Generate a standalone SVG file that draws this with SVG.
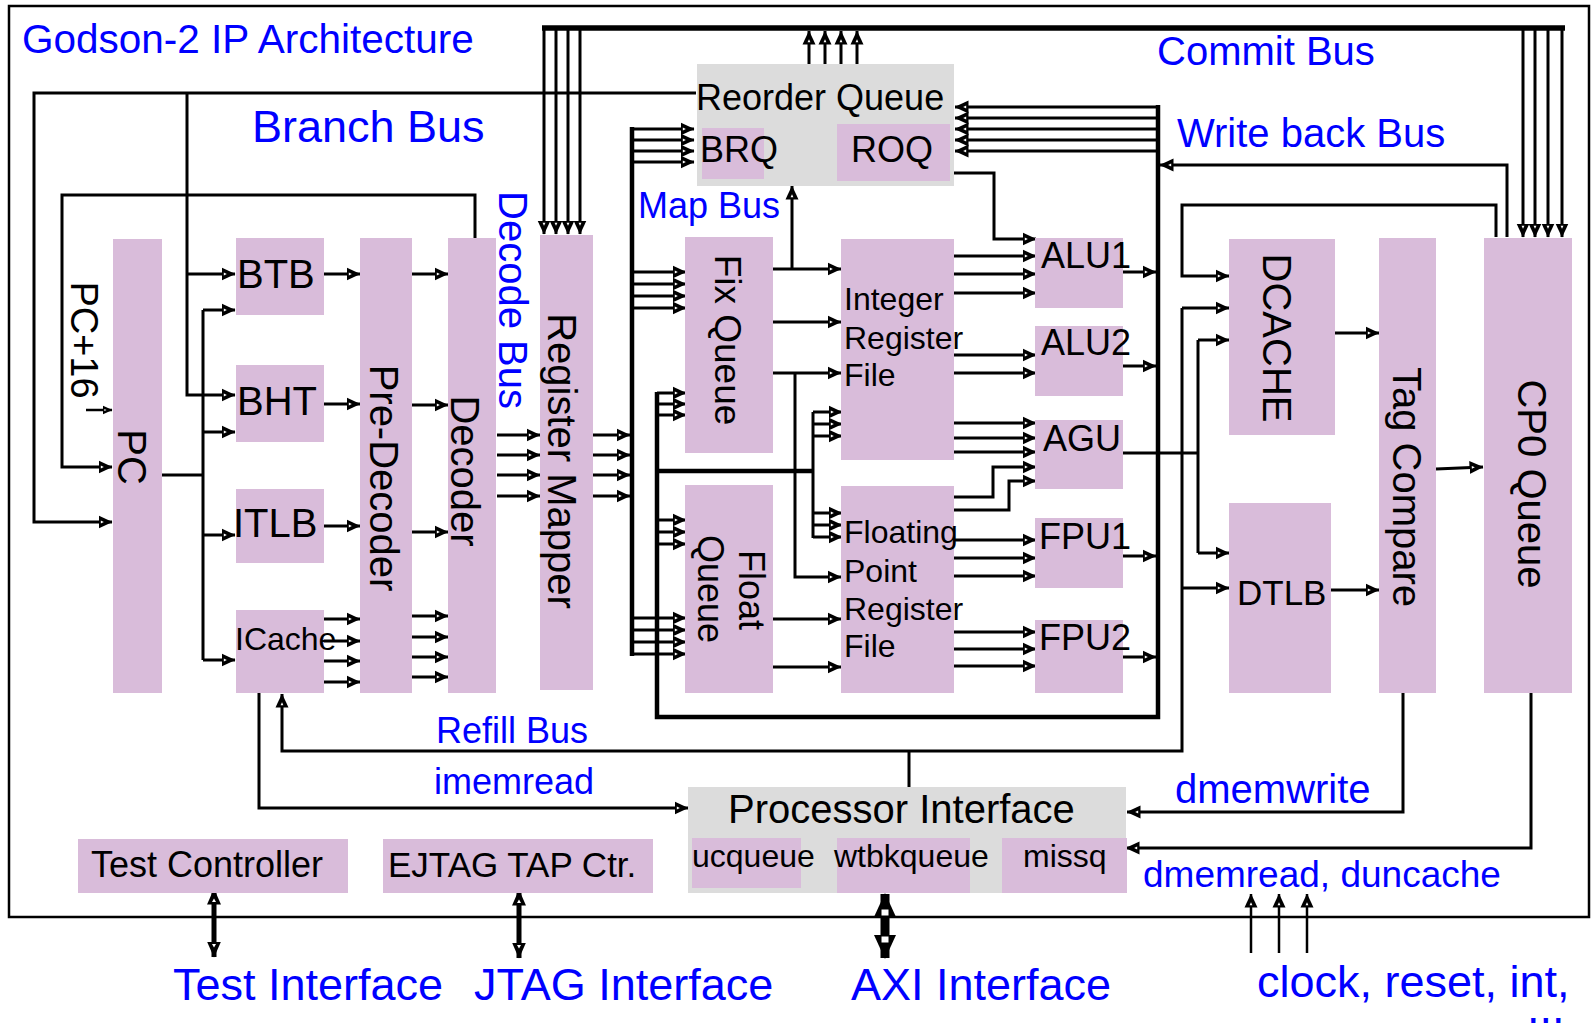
<svg xmlns="http://www.w3.org/2000/svg" width="1591" height="1023" viewBox="0 0 1591 1023">
<style>
.t{font-family:"Liberation Sans",Arial,sans-serif;fill:#000}
.bl{font-family:"Liberation Sans",Arial,sans-serif;fill:#0000FF}
.p{fill:#D9BCDA}
.g{fill:#DCDCDC}
.c{fill:none;stroke:#000;stroke-width:3}
.k{fill:none;stroke:#000;stroke-width:4.5}
.a{marker-end:url(#ah)}
.d{marker-start:url(#bh);marker-end:url(#bh)}
</style>
<defs>
<marker id="ah" viewBox="0 0 14 14" markerWidth="14" markerHeight="14" refX="13.5" refY="7" orient="auto-start-reverse" markerUnits="userSpaceOnUse">
<path d="M0,0.5 L14,7 L0,13.5 Z" fill="#000"/>
<path d="M2.3,5.6 L5.3,7 L2.3,8.4 Z" fill="#fff"/>
</marker>
<marker id="bh" viewBox="0 0 16 16" markerWidth="16" markerHeight="16" refX="15.5" refY="8" orient="auto-start-reverse" markerUnits="userSpaceOnUse">
<path d="M0,1 L16,8 L0,15 Z" fill="#000"/>
<path d="M2.5,6 L6,8 L2.5,10 Z" fill="#fff"/>
</marker>
<marker id="sm" viewBox="0 0 10 10" markerWidth="10" markerHeight="10" refX="9.5" refY="5" orient="auto" markerUnits="userSpaceOnUse">
<path d="M0,0.5 L10,5 L0,9.5 Z" fill="#000"/>
<path d="M1.8,4 L4,5 L1.8,6 Z" fill="#fff"/>
</marker>
<marker id="ax" viewBox="0 0 24 22" markerWidth="24" markerHeight="22" refX="23" refY="11" orient="auto-start-reverse" markerUnits="userSpaceOnUse">
<path d="M0,0 L24,11 L0,22 Z" fill="#000"/>
<rect x="1" y="7" width="7" height="8" fill="#fff" stroke="#000" stroke-width="1"/>
</marker>
</defs>
<rect x="0" y="0" width="1591" height="1023" fill="#fff"/>
<rect x="9" y="6" width="1580" height="911" fill="none" stroke="#000" stroke-width="2.5"/>

<g id="labels">
<text class="bl" x="22" y="53" font-size="40.5">Godson-2 IP Architecture</text>
<text class="bl" x="1157" y="65" font-size="40">Commit Bus</text>
<text class="bl" x="252" y="142" font-size="45">Branch Bus</text>
<text class="bl" x="1177" y="147" font-size="40">Write back Bus</text>
<text class="bl" x="638" y="218" font-size="36">Map Bus</text>
<text class="bl" font-size="40" text-anchor="middle" transform="translate(499,300) rotate(90)">Decode Bus</text>
<text class="t" font-size="38" text-anchor="middle" transform="translate(71,340) rotate(90)">PC+16</text>
<text class="bl" x="436" y="743" font-size="36">Refill Bus</text>
<text class="bl" x="434" y="794" font-size="36">imemread</text>
<text class="bl" x="1175" y="803" font-size="40">dmemwrite</text>
<text class="bl" x="1143" y="887" font-size="37">dmemread, duncache</text>
<text class="bl" x="173" y="1000" font-size="45">Test Interface</text>
<text class="bl" x="474" y="1000" font-size="45">JTAG Interface</text>
<text class="bl" x="851" y="1000" font-size="45">AXI Interface</text>
<text class="bl" x="1257" y="997" font-size="45">clock, reset, int,</text>
<text class="bl" x="1527" y="1049" font-size="45">!!!</text>
</g>

<g id="connectors">
<!-- commit bus -->
<path class="c" d="M542,28 H1565" style="stroke-width:5.5"/>
<path class="c a" d="M544,28 V234"/>
<path class="c a" d="M556,28 V234"/>
<path class="c a" d="M568,28 V234"/>
<path class="c a" d="M580,28 V234"/>
<path class="c a" d="M1523,28 V237"/>
<path class="c a" d="M1535,28 V237"/>
<path class="c a" d="M1548,28 V237"/>
<path class="c a" d="M1562,28 V237"/>
<path class="c a" d="M809,64 V31"/>
<path class="c a" d="M825,64 V31"/>
<path class="c a" d="M841,64 V31"/>
<path class="c a" d="M857,64 V31"/>
<!-- branch bus -->
<path class="c a" d="M696,93 H34 V522 H112"/>
<path class="c a" d="M187,93 V395 H235"/>
<path class="c a" d="M187,274 H235"/>
<!-- decoder to PC -->
<path class="c a" d="M475,238 V195 H62 V467 H112"/>
<path class="c" d="M86,410 H112" style="stroke-width:2.5" marker-end="url(#sm)"/>
<!-- PC fanout -->
<path class="c" d="M162,475 H203"/>
<path class="c" d="M203,310 V660"/>
<path class="c a" d="M203,310 H235"/>
<path class="c a" d="M203,432 H235"/>
<path class="c a" d="M203,535 H235"/>
<path class="c a" d="M203,660 H235"/>
<!-- to pre-decoder -->
<path class="c a" d="M323,274 H360"/>
<path class="c a" d="M323,404 H360"/>
<path class="c a" d="M323,526 H360"/>
<path class="c a" d="M322,619 H360"/>
<path class="c a" d="M322,641 H360"/>
<path class="c a" d="M322,661 H360"/>
<path class="c a" d="M322,682 H360"/>
<!-- pre-decoder to decoder -->
<path class="c a" d="M410,274 H448"/>
<path class="c a" d="M410,405 H448"/>
<path class="c a" d="M410,532 H448"/>
<path class="c a" d="M410,616 H448"/>
<path class="c a" d="M410,637 H448"/>
<path class="c a" d="M410,657 H448"/>
<path class="c a" d="M410,677 H448"/>
<!-- decoder to mapper -->
<path class="c a" d="M497,435 H540"/>
<path class="c a" d="M497,455 H540"/>
<path class="c a" d="M497,475 H540"/>
<path class="c a" d="M497,496 H540"/>
<!-- mapper to map bus -->
<path class="c a" d="M593,435 H630"/>
<path class="c a" d="M593,455 H630"/>
<path class="c a" d="M593,475 H630"/>
<path class="c a" d="M593,496 H630"/>
<!-- map bus -->
<path class="k" d="M632,127 V656"/>
<path class="c a" d="M632,129 H694"/>
<path class="c a" d="M632,140 H694"/>
<path class="c a" d="M632,151 H694"/>
<path class="c a" d="M632,162 H694"/>
<path class="c a" d="M632,272 H686"/>
<path class="c a" d="M632,284 H686"/>
<path class="c a" d="M632,296 H686"/>
<path class="c a" d="M632,308 H686"/>
<path class="c a" d="M632,618 H686"/>
<path class="c a" d="M632,630 H686"/>
<path class="c a" d="M632,642 H686"/>
<path class="c a" d="M632,654 H686"/>
<!-- write back bus -->
<path class="k" d="M657,392 V717 H1158 V105"/>
<path class="c a" d="M1158,107 H955"/>
<path class="c a" d="M1158,118 H955"/>
<path class="c a" d="M1158,129 H955"/>
<path class="c a" d="M1158,140 H955"/>
<path class="c a" d="M1158,151 H955"/>
<path class="c a" d="M657,393 H686"/>
<path class="c a" d="M657,404 H686"/>
<path class="c a" d="M657,415 H686"/>
<path class="c a" d="M657,520 H686"/>
<path class="c a" d="M657,532 H686"/>
<path class="c a" d="M657,544 H686"/>
<path class="k" d="M657,471 H813"/>
<path class="c" d="M813,412 V538"/>
<path class="c a" d="M813,412 H842"/>
<path class="c a" d="M813,424 H842"/>
<path class="c a" d="M813,436 H842"/>
<path class="c a" d="M813,513 H842"/>
<path class="c a" d="M813,525 H842"/>
<path class="c a" d="M813,537 H842"/>
<!-- queues to register files -->
<path class="c a" d="M792,269 V186"/>
<path class="c a" d="M773,269 H841"/>
<path class="c a" d="M773,322 H841"/>
<path class="c a" d="M773,373 H841"/>
<path class="c a" d="M795,373 V577 H841"/>
<path class="c a" d="M773,619 H841"/>
<path class="c a" d="M773,667 H841"/>
<!-- register files to units -->
<path class="c a" d="M950,173 H994 V239 H1036"/>
<path class="c a" d="M954,256 H1036"/>
<path class="c a" d="M954,274 H1036"/>
<path class="c a" d="M954,293 H1036"/>
<path class="c a" d="M954,355 H1036"/>
<path class="c a" d="M954,373 H1036"/>
<path class="c a" d="M954,423 H1036"/>
<path class="c a" d="M954,438 H1036"/>
<path class="c a" d="M954,452 H1036"/>
<path class="c a" d="M954,497 H993 V467 H1036"/>
<path class="c a" d="M954,510 H1009 V481 H1036"/>
<path class="c a" d="M954,540 H1036"/>
<path class="c a" d="M954,558 H1036"/>
<path class="c a" d="M954,576 H1036"/>
<path class="c a" d="M954,632 H1036"/>
<path class="c a" d="M954,649 H1036"/>
<path class="c a" d="M954,666 H1036"/>
<!-- units to write back -->
<path class="c a" d="M1123,272 H1156"/>
<path class="c a" d="M1123,366 H1156"/>
<path class="c a" d="M1123,556 H1156"/>
<path class="c a" d="M1123,657 H1156"/>
<path class="c" d="M1121,453 H1198"/>
<path class="c" d="M1198,340 V553"/>
<path class="c a" d="M1198,340 H1229"/>
<path class="c a" d="M1198,553 H1229"/>
<!-- CP0 loop and refill -->
<path class="c a" d="M1496,237 V205 H1182 V276 H1229"/>
<path class="c a" d="M1182,308 V751 H282 V694"/>
<path class="c a" d="M1182,308 H1229"/>
<path class="c a" d="M1182,588 H1229"/>
<path class="c" d="M909,751 V787"/>
<path class="c a" d="M259,693 V808 H688"/>
<path class="c a" d="M1507,237 V165 H1160"/>
<!-- memory side -->
<path class="c a" d="M1335,333 H1379"/>
<path class="c a" d="M1331,590 H1379"/>
<path class="c a" d="M1436,469 L1483,467"/>
<path class="c a" d="M1403,693 V812 H1127"/>
<path class="c a" d="M1531,693 V848 H1126"/>
<!-- external interfaces -->
<path class="c d" d="M214,889 V957" style="stroke-width:5"/>
<path class="c d" d="M519,890 V958" style="stroke-width:5"/>
<path d="M885,894 V958" stroke="#000" stroke-width="9" fill="none" marker-start="url(#ax)" marker-end="url(#ax)"/>
<path class="c a" d="M1251,953 V894" style="stroke-width:2.5"/>
<path class="c a" d="M1279,953 V894" style="stroke-width:2.5"/>
<path class="c a" d="M1307,953 V894" style="stroke-width:2.5"/>
</g>

<g id="pc"><rect class="p" x="113" y="239" width="49" height="454"/><text class="t" font-size="40" text-anchor="middle" transform="translate(118,457) rotate(90)">PC</text></g>
<g id="btb"><rect class="p" x="236" y="238" width="88" height="77"/><text class="t" x="237" y="288" font-size="40">BTB</text></g>
<g id="bht"><rect class="p" x="236" y="365" width="88" height="77"/><text class="t" x="237" y="415" font-size="40">BHT</text></g>
<g id="itlb"><rect class="p" x="236" y="489" width="88" height="74"/><text class="t" x="233" y="537" font-size="40">ITLB</text></g>
<g id="icache"><rect class="p" x="236" y="610" width="88" height="83"/><text class="t" x="235" y="650" font-size="32">ICache</text></g>
<g id="predecoder"><rect class="p" x="360" y="238" width="52" height="455"/><text class="t" font-size="40" text-anchor="middle" transform="translate(370,478) rotate(90)">Pre-Decoder</text></g>
<g id="decoder"><rect class="p" x="448" y="238" width="48" height="455"/><text class="t" font-size="40" text-anchor="middle" transform="translate(451,471) rotate(90)">Decoder</text></g>
<g id="mapper"><rect class="p" x="540" y="235" width="53" height="455"/><text class="t" font-size="40" text-anchor="middle" transform="translate(548,461) rotate(90)">Register Mapper</text></g>
<g id="reorder"><rect class="g" x="697" y="64" width="257" height="122"/><rect class="p" x="702" y="128" width="62" height="51"/><rect class="p" x="837" y="124" width="113" height="57"/><text class="t" x="696" y="110" font-size="36">Reorder Queue</text><text class="t" x="700" y="162" font-size="36">BRQ</text><text class="t" x="851" y="162" font-size="36">ROQ</text></g>
<g id="fixq"><rect class="p" x="685" y="237" width="88" height="216"/><text class="t" font-size="37" text-anchor="middle" transform="translate(715,340) rotate(90)">Fix Queue</text></g>
<g id="floatq"><rect class="p" x="685" y="485" width="88" height="208"/><text class="t" font-size="36" text-anchor="middle" transform="translate(739,590) rotate(90)">Float</text><text class="t" font-size="36" text-anchor="middle" transform="translate(698,589) rotate(90)">Queue</text></g>
<g id="irf"><rect class="p" x="841" y="239" width="113" height="221"/><text class="t" x="844" y="310" font-size="32">Integer</text><text class="t" x="844" y="349" font-size="32">Register</text><text class="t" x="844" y="386" font-size="32">File</text></g>
<g id="fprf"><rect class="p" x="841" y="486" width="113" height="207"/><text class="t" x="844" y="543" font-size="32">Floating</text><text class="t" x="844" y="582" font-size="32">Point</text><text class="t" x="844" y="620" font-size="32">Register</text><text class="t" x="844" y="657" font-size="32">File</text></g>
<g id="alu1"><rect class="p" x="1035" y="238" width="88" height="70"/><text class="t" x="1041" y="268" font-size="36">ALU1</text></g>
<g id="alu2"><rect class="p" x="1035" y="326" width="88" height="70"/><text class="t" x="1041" y="355" font-size="36">ALU2</text></g>
<g id="agu"><rect class="p" x="1035" y="420" width="88" height="69"/><text class="t" x="1043" y="451" font-size="36">AGU</text></g>
<g id="fpu1"><rect class="p" x="1035" y="518" width="88" height="70"/><text class="t" x="1039" y="549" font-size="36">FPU1</text></g>
<g id="fpu2"><rect class="p" x="1035" y="620" width="88" height="73"/><text class="t" x="1039" y="650" font-size="36">FPU2</text></g>
<g id="dcache"><rect class="p" x="1229" y="239" width="106" height="196"/><text class="t" font-size="40" text-anchor="middle" transform="translate(1263,338) rotate(90)">DCACHE</text></g>
<g id="dtlb"><rect class="p" x="1229" y="503" width="102" height="190"/><text class="t" x="1237" y="605" font-size="35">DTLB</text></g>
<g id="tagcompare"><rect class="p" x="1379" y="238" width="57" height="455"/><text class="t" font-size="40" text-anchor="middle" transform="translate(1393,487) rotate(90)">Tag Compare</text></g>
<g id="cp0"><rect class="p" x="1484" y="238" width="88" height="455"/><text class="t" font-size="40" text-anchor="middle" transform="translate(1518,484) rotate(90)">CP0 Queue</text></g>
<g id="procif"><rect class="g" x="688" y="787" width="438" height="106"/><rect class="p" x="692" y="838" width="109" height="50"/><rect class="p" x="837" y="838" width="133" height="55"/><rect class="p" x="1002" y="838" width="125" height="55"/><text class="t" x="728" y="823" font-size="40">Processor Interface</text><text class="t" x="692" y="867" font-size="32">ucqueue</text><text class="t" x="834" y="867" font-size="32">wtbkqueue</text><text class="t" x="1023" y="867" font-size="32">missq</text></g>
<g id="testctl"><rect class="p" x="78" y="839" width="270" height="54"/><text class="t" x="91" y="877" font-size="36">Test Controller</text></g>
<g id="ejtag"><rect class="p" x="383" y="839" width="270" height="54"/><text class="t" x="388" y="877" font-size="35">EJTAG TAP Ctr.</text></g>
</svg>
